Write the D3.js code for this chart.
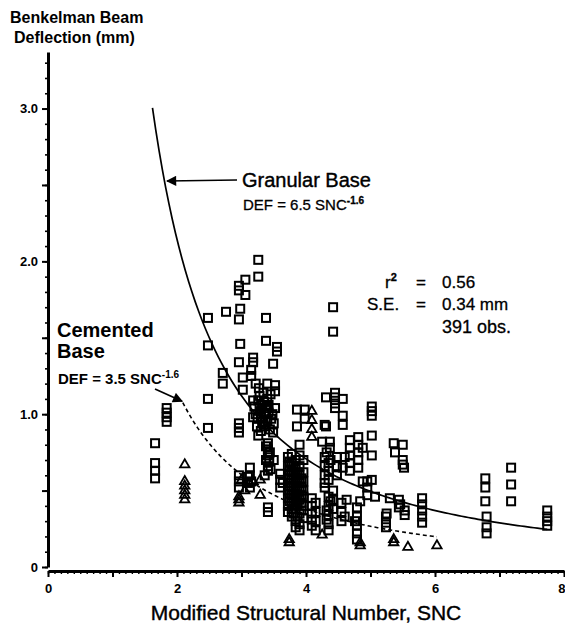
<!DOCTYPE html>
<html>
<head>
<meta charset="utf-8">
<script src="https://cdn.jsdelivr.net/npm/d3@7"></script>
<style>
  body { margin: 0; background: #fff; }
  svg { display: block; font-family: "Liberation Sans", Arial, sans-serif; }
</style>
</head>
<body>
<div id="chart"></div>
<script>
var granularObs = [
  [1.66,0.81],[1.66,0.68],[1.66,0.63],[1.66,0.58],
  [1.84,1.04],[1.84,1.01],[1.84,0.98],[1.84,0.95],
  [2.48,1.63],[2.48,1.45],[2.48,1.10],[2.48,0.91],
  [2.71,1.27],[2.71,1.20],[2.76,1.67],
  [2.96,1.84],[2.96,1.81],[2.98,1.69],[2.96,1.62],[2.98,1.46],[2.96,1.34],
  [2.96,0.94],[2.96,0.91],[2.96,0.88],[2.96,0.60],[2.96,0.56],[2.96,0.52],
  [3.02,1.24],[3.02,1.16],[3.06,1.88],[3.06,1.78],
  [3.10,0.59],[3.10,0.55],[3.15,1.29],[3.15,1.25],
  [3.18,1.37],[3.18,1.34],[3.18,1.09],
  [3.26,2.01],[3.26,1.90],[3.27,1.17],[3.26,0.86],
  [3.20,1.05],[3.22,1.00],[3.25,0.97],[3.28,1.12],[3.30,1.02],[3.32,0.95],
  [3.35,1.08],[3.36,0.92],[3.38,1.00],[3.40,0.96],[3.42,1.06],[3.44,0.90],
  [3.45,1.13],[3.48,1.00],[3.50,0.94],[3.52,1.04],[3.30,0.89],[3.24,0.92],
  [3.18,0.98],[3.40,1.10],[3.34,1.14],[3.28,1.04],[3.46,0.97],[3.36,1.01],
  [3.32,1.06],[3.26,1.09],[3.30,0.98],[3.34,0.93],[3.38,1.04],[3.42,1.01],
  [3.38,1.63],[3.38,1.48],[3.49,1.33],[3.49,0.88],
  [3.55,1.44],[3.55,1.41],[3.52,1.19],[3.52,1.15],[3.40,1.20],[3.22,1.20],
  [3.41,0.81],[3.41,0.77],[3.41,0.73],[3.43,0.69],[3.41,0.66],[3.41,0.63],
  [3.38,0.79],[3.44,0.75],[3.38,0.70],[3.45,0.64],
  [3.36,0.60],[3.13,0.65],[3.13,0.60],[3.15,0.56],[3.13,0.52],[3.50,0.70],
  [3.41,0.39],[3.41,0.36],
  [3.60,0.61],[3.60,0.57],[3.60,0.52],[3.64,0.55],
  [3.72,0.72],[3.72,0.66],[3.72,0.60],[3.72,0.55],[3.72,0.50],[3.72,0.45],[3.72,0.40],[3.72,0.36],
  [3.75,0.69],[3.75,0.63],[3.75,0.58],[3.75,0.53],[3.75,0.48],[3.75,0.43],
  [3.78,0.74],[3.78,0.68],[3.78,0.62],[3.78,0.57],[3.78,0.52],[3.78,0.47],[3.78,0.42],[3.78,0.38],[3.78,0.33],
  [3.81,0.66],[3.81,0.60],[3.81,0.55],[3.81,0.50],[3.81,0.45],[3.81,0.40],[3.81,0.35],
  [3.84,0.70],[3.84,0.64],[3.84,0.58],[3.84,0.53],[3.84,0.48],[3.84,0.43],[3.84,0.38],[3.84,0.30],[3.84,0.26],
  [3.87,0.62],[3.87,0.56],[3.87,0.51],[3.87,0.46],[3.87,0.41],[3.87,0.33],
  [3.90,0.80],[3.90,0.73],[3.90,0.66],[3.90,0.60],[3.90,0.55],[3.90,0.50],[3.90,0.44],[3.90,0.35],[3.90,0.28],[3.90,0.24],
  [3.93,0.58],[3.93,0.52],[3.93,0.47],[3.93,0.42],[3.93,0.37],
  [3.96,0.70],[3.96,0.62],[3.96,0.56],[3.96,0.50],[3.96,0.46],[3.96,0.40],[3.96,0.32],
  [3.86,1.03],[3.86,0.92],[3.98,1.03],[3.98,0.97],
  [4.09,0.45],[4.09,0.40],[4.09,0.35],[4.09,0.31],[4.09,0.27],
  [4.15,0.42],[4.15,0.36],[4.15,0.30],[4.15,0.24],
  [4.25,0.82],[4.37,0.82],[4.37,0.78],
  [4.29,0.93],[4.29,0.72],[4.29,0.66],[4.29,0.60],[4.29,0.55],[4.29,0.52],
  [4.31,1.11],[4.31,0.92],
  [4.35,0.68],[4.35,0.63],[4.35,0.57],[4.35,0.46],[4.35,0.40],[4.35,0.34],[4.35,0.28],[4.35,0.24],
  [4.32,0.37],[4.32,0.31],[4.38,0.43],[4.38,0.70],[4.32,0.75],
  [4.42,1.70],[4.42,1.54],
  [4.45,1.14],[4.45,1.11],[4.45,1.07],[4.45,1.04],
  [4.48,0.72],[4.48,0.66],[4.48,0.60],[4.42,0.50],[4.42,0.44],[4.42,0.38],
  [4.57,1.10],[4.57,0.99],[4.57,0.93],[4.57,0.65],[4.55,0.42],[4.55,0.36],[4.55,0.30],
  [4.63,0.44],[4.60,0.72],[4.60,0.33],
  [4.68,0.83],[4.68,0.78],[4.68,0.73],[4.68,0.68],[4.68,0.63],
  [4.79,0.39],[4.79,0.33],[4.79,0.27],[4.79,0.22],[4.79,0.18],[4.76,0.30],
  [4.81,0.85],[4.81,0.80],[4.81,0.75],[4.81,0.70],[4.81,0.65],
  [4.84,0.43],[4.88,0.78],[4.88,0.56],
  [4.95,0.56],[4.95,0.52],[4.95,0.47],
  [5.02,1.05],[5.02,1.02],[5.02,0.99],[5.02,0.86],[5.02,0.73],[5.02,0.57],
  [5.07,0.46],
  [5.24,0.33],[5.24,0.29],[5.24,0.26],[5.25,0.35],[5.30,0.45],
  [5.36,0.81],[5.38,0.75],[5.50,0.80],
  [5.50,0.70],[5.50,0.67],[5.52,0.65],
  [5.44,0.44],[5.44,0.39],[5.46,0.41],[5.53,0.37],[5.53,0.34],
  [5.80,0.45],[5.80,0.41],[5.80,0.37],[5.80,0.33],[5.80,0.29],
  [6.78,0.58],[6.78,0.52],[6.78,0.43],[6.80,0.33],[6.80,0.26],[6.80,0.22],
  [7.18,0.65],[7.18,0.54],[7.18,0.43],
  [7.74,0.37],[7.74,0.33],[7.74,0.30],[7.74,0.27]
];

var cementedObs = [
  [2.12,0.67],[2.12,0.56],[2.12,0.53],[2.12,0.50],[2.12,0.47],[2.12,0.44],
  [2.96,0.44],[2.96,0.42],[2.96,0.46],[3.05,0.50],[3.00,0.57],
  [3.29,0.57],[3.29,0.47],[3.18,0.56],
  [4.09,1.02],[4.09,0.96],[4.09,0.90],[4.09,0.85],
  [3.74,0.16],[3.74,0.18],[4.25,0.21],[4.84,0.14],[4.84,0.16],
  [5.36,0.16],[5.36,0.18],[5.58,0.13],[6.03,0.14]
];

// fitted models DEF = a * SNC^b
var granularFit = { a: 6.5, b: -1.6, from: 1.62, to: 7.74 };
var cementedFit = { a: 3.5, b: -1.6, from: 2.09, to: 6.03 };

var xTickLabels = [0, 2, 4, 6, 8];
var yTickLabels = [0, 1, 2, 3];

var width = 565, height = 628;

var svg = d3.select('#chart').append('svg')
  .attr('width', width)
  .attr('height', height);

var x = d3.scaleLinear().domain([0, 8]).range([48, 564]);
var y = d3.scaleLinear().domain([0, 3.37]).range([567, 52]);

// y axis: minor ticks every 0.1, major every 0.5
var yMinor = d3.range(0, 3.36, 0.1);
var yMajor = d3.range(0, 3.36, 0.5);
svg.append('g')
  .attr('transform', 'translate(48,0)')
  .call(d3.axisLeft(y).tickValues(yMinor).tickSize(3).tickFormat(''))
  .call(function (g) { g.select('.domain').remove(); g.selectAll('line').attr('stroke-width', 1.6); });
svg.append('g')
  .attr('transform', 'translate(48,0)')
  .call(d3.axisLeft(y).tickValues(yMajor).tickSize(6).tickSizeOuter(0)
    .tickFormat(function (d) { return yTickLabels.indexOf(d) >= 0 ? (d === 0 ? '0' : d.toFixed(1)) : ''; }))
  .call(function (g) {
    g.select('.domain').attr('stroke-width', 3);
    g.selectAll('line').attr('stroke-width', 2);
    g.selectAll('text').attr('font-size', 13).attr('font-weight', 'bold')
      .attr('font-family', '"Liberation Sans", Arial, sans-serif').attr('fill', '#000').attr('dx', -1);
  });

// x axis: minor ticks every 0.1, major every 1
var xAxisY = 571;
svg.append('g')
  .attr('transform', 'translate(0,' + xAxisY + ')')
  .call(d3.axisBottom(x).tickValues(d3.range(0, 8.01, 0.1)).tickSize(3).tickFormat(''))
  .call(function (g) { g.select('.domain').remove(); g.selectAll('line').attr('stroke-width', 1.4); });
svg.append('g')
  .attr('transform', 'translate(0,' + xAxisY + ')')
  .call(d3.axisBottom(x).tickValues(d3.range(0, 9, 1)).tickSize(6).tickSizeOuter(0)
    .tickFormat(function (d) { return xTickLabels.indexOf(d) >= 0 ? d : ''; }))
  .call(function (g) {
    g.select('.domain').attr('stroke-width', 3);
    g.selectAll('line').attr('stroke-width', 2);
    g.selectAll('text').attr('font-size', 13).attr('font-weight', 'bold')
      .attr('font-family', '"Liberation Sans", Arial, sans-serif').attr('fill', '#000').attr('dy', '1.0em');
    // last label sits at the right edge, keep it inside
    g.selectAll('.tick').filter(function (d) { return d === 8; }).select('text')
      .attr('text-anchor', 'end').attr('dx', 1);
  });

// axis titles
svg.append('text').attr('x', 10).attr('y', 23)
  .attr('font-size', 16).attr('font-weight', 'bold').text('Benkelman Beam');
svg.append('text').attr('x', 14).attr('y', 43)
  .attr('font-size', 16).attr('font-weight', 'bold').text('Deflection (mm)');
svg.append('text').attr('x', 306).attr('y', 620).attr('text-anchor', 'middle')
  .attr('font-size', 21).attr('stroke', '#000').attr('stroke-width', 0.4)
  .text('Modified Structural Number, SNC');

// fitted curves
function curvePoints(f) {
  var n = 120, pts = [];
  for (var i = 0; i <= n; i++) {
    var s = f.from + (f.to - f.from) * i / n;
    pts.push([s, f.a * Math.pow(s, f.b)]);
  }
  return pts;
}
var line = d3.line().x(function (d) { return x(d[0]); }).y(function (d) { return y(d[1]); });

svg.append('path').datum(curvePoints(granularFit))
  .attr('d', line).attr('fill', 'none').attr('stroke', '#000').attr('stroke-width', 1.7);
svg.append('path').datum(curvePoints(cementedFit))
  .attr('d', line).attr('fill', 'none').attr('stroke', '#000').attr('stroke-width', 1.6)
  .attr('stroke-dasharray', '4,3');

// observations
var sq = 8;
svg.append('g').selectAll('rect')
  .data(granularObs)
  .enter().append('rect')
  .attr('x', function (d) { return x(d[0]) - sq / 2; })
  .attr('y', function (d) { return y(d[1]) - sq / 2; })
  .attr('width', sq).attr('height', sq)
  .attr('fill', 'none').attr('stroke', '#000').attr('stroke-width', 2);

var tri = d3.symbol().type(d3.symbolTriangle).size(38);
svg.append('g').selectAll('path')
  .data(cementedObs)
  .enter().append('path')
  .attr('transform', function (d) { return 'translate(' + x(d[0]) + ',' + y(d[1]) + ')'; })
  .attr('d', tri)
  .attr('fill', 'none').attr('stroke', '#000').attr('stroke-width', 1.8);

// annotations
var defs = svg.append('defs');
defs.append('marker').attr('id', 'arrow').attr('viewBox', '0 0 10 10')
  .attr('refX', 9).attr('refY', 5).attr('markerWidth', 7).attr('markerHeight', 6)
  .attr('orient', 'auto-start-reverse')
  .append('path').attr('d', 'M0,0 L10,5 L0,10 z').attr('fill', '#000');

svg.append('line').attr('x1', 237).attr('y1', 180).attr('x2', 167).attr('y2', 181)
  .attr('stroke', '#000').attr('stroke-width', 1.7).attr('marker-end', 'url(#arrow)');
svg.append('text').attr('x', 242).attr('y', 187).attr('font-size', 20)
  .attr('stroke', '#000').attr('stroke-width', 0.4).text('Granular Base');
var g1 = svg.append('text').attr('x', 243).attr('y', 210).attr('font-size', 15)
  .attr('stroke', '#000').attr('stroke-width', 0.3);
g1.append('tspan').text('DEF = 6.5 SNC');
g1.append('tspan').attr('dy', -6).attr('font-size', 10).attr('font-weight', 'bold').text('-1.6');

svg.append('text').attr('x', 57).attr('y', 337).attr('font-size', 20).attr('font-weight', 'bold').text('Cemented');
svg.append('text').attr('x', 57).attr('y', 358).attr('font-size', 20).attr('font-weight', 'bold').text('Base');
var g2 = svg.append('text').attr('x', 58).attr('y', 384).attr('font-size', 15).attr('font-weight', 'bold');
g2.append('tspan').text('DEF = 3.5 SNC');
g2.append('tspan').attr('dy', -6).attr('font-size', 10).text('-1.6');
svg.append('line').attr('x1', 155).attr('y1', 389).attr('x2', x(2.08)).attr('y2', y(cementedFit.a * Math.pow(2.08, cementedFit.b)))
  .attr('stroke', '#000').attr('stroke-width', 1.7).attr('marker-end', 'url(#arrow)');

// statistics
var stats = svg.append('g').attr('font-size', 17).attr('stroke', '#000').attr('stroke-width', 0.3);
var r2 = stats.append('text').attr('x', 385).attr('y', 288);
r2.append('tspan').text('r');
r2.append('tspan').attr('dy', -7).attr('font-size', 11).attr('font-weight', 'bold').text('2');
stats.append('text').attr('x', 416).attr('y', 288).text('=');
stats.append('text').attr('x', 442).attr('y', 288).text('0.56');
stats.append('text').attr('x', 367).attr('y', 310).text('S.E.');
stats.append('text').attr('x', 416).attr('y', 310).text('=');
stats.append('text').attr('x', 442).attr('y', 310).text('0.34 mm');
stats.append('text').attr('x', 442).attr('y', 333).attr('font-size', 18).text('391 obs.');
</script>
</body>
</html>
